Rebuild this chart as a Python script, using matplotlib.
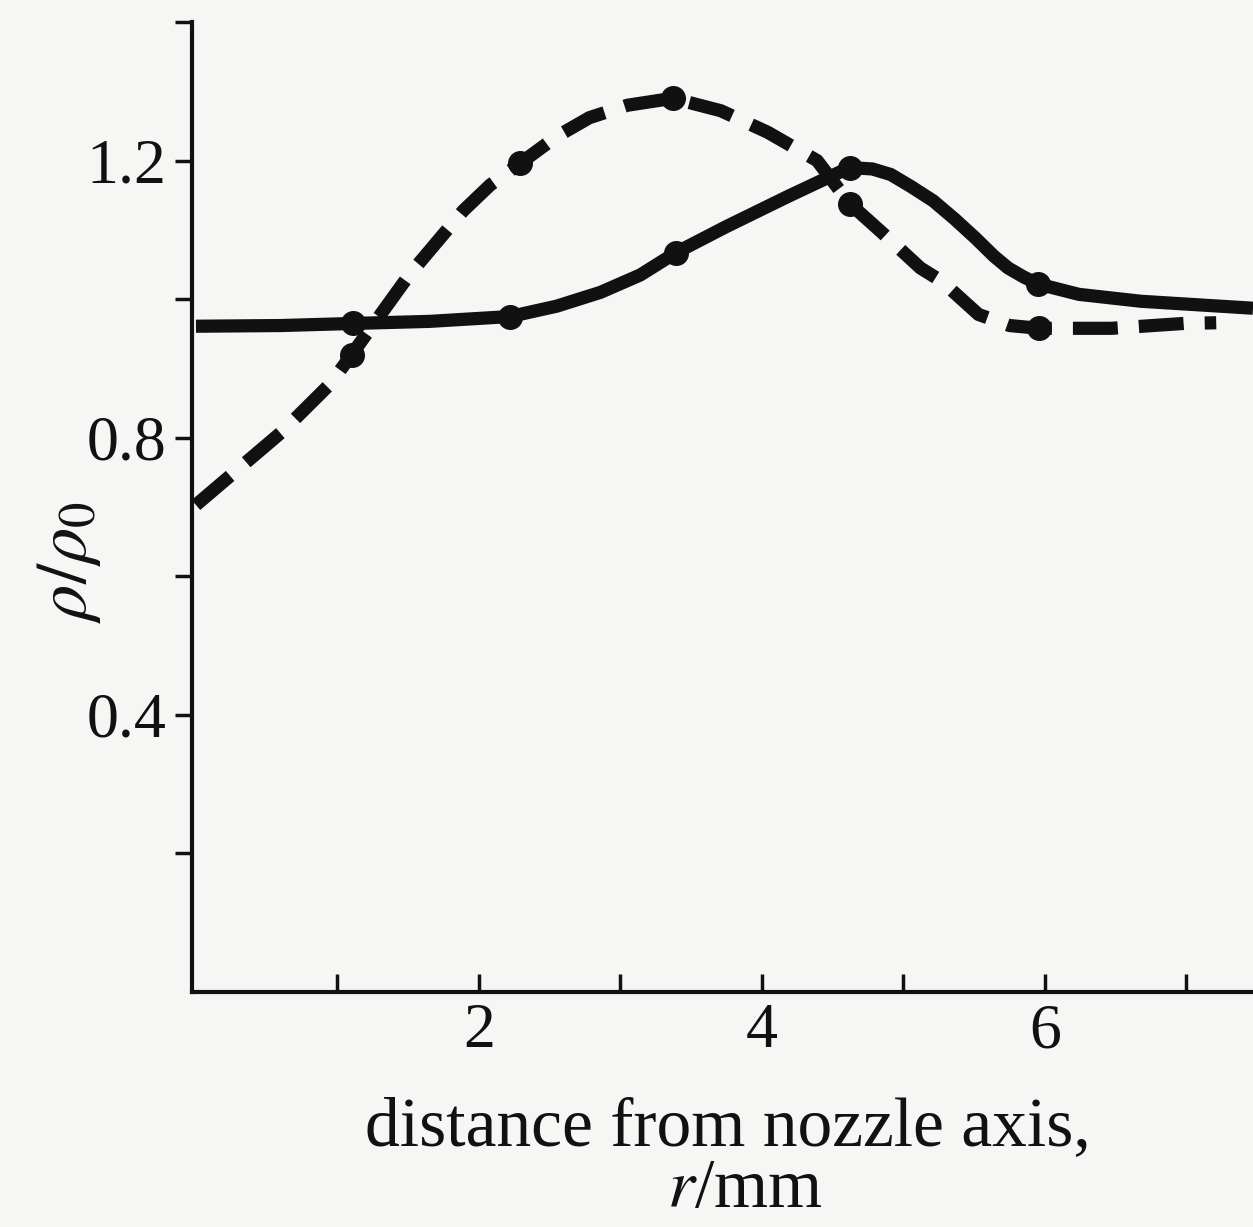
import matplotlib
matplotlib.use("Agg")
import matplotlib.pyplot as plt

# ---- data ----
# solid curve trace (r in mm, rho/rho0)
solid_r = [0.0, 0.6, 1.11, 1.65, 2.22, 2.55, 2.86, 3.14, 3.39, 3.74, 4.18, 4.45,
           4.62, 4.78, 4.91, 5.05, 5.21, 5.36, 5.51, 5.64, 5.74, 5.85, 5.95,
           6.24, 6.68, 7.47]
solid_rho = [0.961, 0.962, 0.965, 0.968, 0.975, 0.990, 1.010, 1.035, 1.067, 1.104,
             1.148, 1.174, 1.190, 1.188, 1.180, 1.163, 1.142, 1.116, 1.088, 1.062,
             1.045, 1.032, 1.022, 1.007, 0.997, 0.987]
# dashed curve trace
dashed_r = [0.0, 0.61, 0.95, 1.10, 1.51, 1.89, 2.08, 2.29, 2.55, 2.78, 3.05, 3.37,
            3.71, 4.04, 4.39, 4.62, 4.86, 5.12, 5.27, 5.53, 5.75, 5.96, 6.47,
            6.98, 7.21]
dashed_rho = [0.703, 0.809, 0.878, 0.920, 1.036, 1.128, 1.165, 1.196, 1.235, 1.262,
              1.280, 1.290, 1.272, 1.241, 1.200, 1.138, 1.094, 1.045, 1.026, 0.978,
              0.962, 0.958, 0.958, 0.965, 0.966]
# measured points (markers)
solid_pts_r = [1.11, 2.22, 3.39, 4.62, 5.95]
solid_pts_rho = [0.965, 0.975, 1.067, 1.190, 1.022]
dashed_pts_r = [1.10, 2.29, 3.37, 4.62, 5.96]
dashed_pts_rho = [0.920, 1.196, 1.290, 1.138, 0.958]

x_ticks = [1, 2, 3, 4, 5, 6, 7]
x_ticklabels = ["", "2", "", "4", "", "6", ""]
y_ticks = [0.2, 0.4, 0.6, 0.8, 1.0, 1.2, 1.4]
y_ticklabels = ["", "0.4", "", "0.8", "", "1.2", ""]

plt.rcParams["font.family"] = ["Liberation Serif", "DejaVu Serif"]
plt.rcParams["mathtext.fontset"] = "stix"

ink = "#111111"
bg = "#f6f6f4"

fig = plt.figure(figsize=(12.53, 12.27), dpi=100, facecolor=bg)
ax = fig.add_axes([0.153, 0.1915, 0.847, 0.7905])
ax.set_facecolor(bg)

ax.plot(solid_r, solid_rho, color=ink, lw=9.5, solid_capstyle="butt",
        solid_joinstyle="round")
ax.plot(dashed_r, dashed_rho, color=ink, lw=9.5, dashes=(3.4, 1.6),
        dash_capstyle="butt", dash_joinstyle="round")
ax.plot(solid_pts_r, solid_pts_rho, "o", color=ink, ms=17, mec=ink)
ax.plot(dashed_pts_r, dashed_pts_rho, "o", color=ink, ms=17, mec=ink)

ax.set_xlim(-0.03, 7.47)
ax.set_ylim(0, 1.4)

for s in ("top", "right"):
    ax.spines[s].set_visible(False)
for s in ("left", "bottom"):
    ax.spines[s].set_linewidth(3)
    ax.spines[s].set_color(ink)

ax.set_xticks(x_ticks)
ax.set_xticklabels(x_ticklabels)
ax.set_yticks(y_ticks)
ax.set_yticklabels(y_ticklabels)
ax.tick_params(axis="x", direction="in", length=13, width=2.5, colors=ink,
               labelsize=46, pad=8)
ax.tick_params(axis="y", direction="out", length=12, width=2.5, colors=ink,
               labelsize=46, pad=6)

ax.set_xlabel("distance from nozzle axis,", fontsize=50, color=ink)
ax.xaxis.set_label_coords(0.505, -0.108)
ax.text(0.521, -0.222, "$r$/mm", transform=ax.transAxes, fontsize=50,
        color=ink, ha="center", va="baseline")
ax.set_ylabel(r"$\rho/\rho_{0}$", fontsize=52, color=ink)
ax.yaxis.set_label_coords(-0.084, 0.443)

fig.savefig("out.png", dpi=100, facecolor=bg)
